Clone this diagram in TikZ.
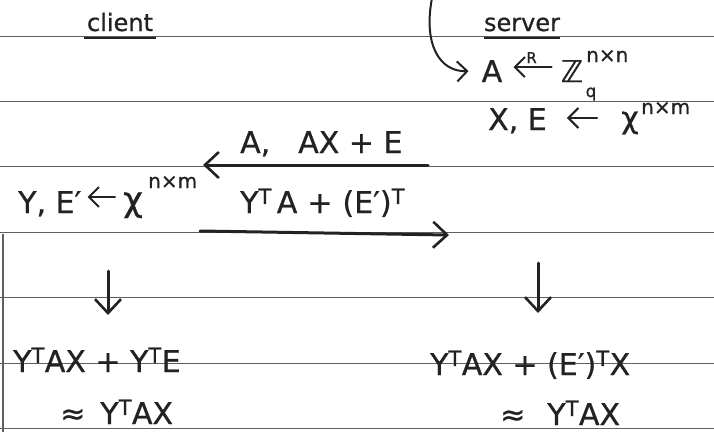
\documentclass[tikz,border=0pt]{standalone}
\usepackage{fontspec}
\setmainfont{DejaVu Sans}[FakeBold=0.8]
\usetikzlibrary{arrows.meta}
\definecolor{inkc}{HTML}{222222}
\definecolor{rulec}{HTML}{606060}
\newcommand{\tp}{\textsuperscript{T}}
\begin{document}
\begin{tikzpicture}[x=1pt,y=-1pt,
  hand/.style={text=inkc, inner sep=0pt, font=\fontsize{30}{30}\selectfont},
  label/.style={text=inkc, inner sep=0pt, font=\fontsize{24}{24}\selectfont},
  expo/.style={text=inkc, inner sep=0pt, font=\fontsize{20}{20}\selectfont},
  tiny/.style={text=inkc, inner sep=0pt, font=\fontsize{15}{15}\selectfont},
  conn/.style={draw=inkc, line width=2pt, line cap=round,
    -{Straight Barb[length=10pt,width=20pt,line width=2pt]}},
  msg/.style={draw=inkc, line width=3pt, line cap=round,
    -{Straight Barb[length=14pt,width=26pt,line width=2.6pt]}},
  uline/.style={draw=inkc, line width=2.6pt},
  ruled/.style={draw=rulec, line width=1pt}]
\useasboundingbox (0,0) rectangle (714,432);
\fill[white] (0,0) rectangle (714,432);

% ruled paper
\foreach \yy in {36,101,166,232,297,363,428}
  \draw[ruled] (0,\yy) -- (714,\yy);
\draw[ruled, line width=1.4pt] (3,234) -- (3,432);

% headings
\node[label, anchor=base] (client) at (120,31) {client};
\draw[uline] (84,38) -- (156,38);
\node[label, anchor=base] (server) at (522,31) {server};
\draw[uline] (484,38) -- (560,38);

% server: sampling
\node[hand, anchor=base] (A) at (492,82) {A};
\node[hand, anchor=base] (Z) at (572,82) {ℤ};
\node[expo, anchor=base west] (Znn) at (586,62) {n×n};
\node[expo, anchor=base, font=\fontsize{17}{17}\selectfont] (Zq) at (591,97) {q};
\draw[conn, shorten <=9pt, shorten >=11pt] ([yshift=4pt]Z.west) -- ([yshift=4pt]A.east)
  node[tiny, midway, above=3pt] {R};
\coordinate (loop) at (432,-2);
\draw[conn] (loop) .. controls (423,45) and (440,72) .. ([xshift=-13pt]A.west);

\node[hand, anchor=base west] (XE) at (488,130) {X, E};
\node[hand, anchor=base] (chi) at (630,128) {χ};
\node[expo, anchor=base west] (chinm) at (641,114) {n×m};
\draw[conn, shorten <=24pt, shorten >=20pt] (chi.west |- 0,118) -- (XE.east |- 0,118);

% first message
\node[hand, anchor=base west] (msg1) at (240,153) {A,\hspace{28pt}AX + E};
\coordinate (m1a) at (428,165);
\coordinate (m1b) at (203,165);
\draw[msg] (m1a) -- (m1b);

% client: sampling
\node[hand, anchor=base west] (YE) at (18,213) {Y, E′};
\node[hand, anchor=base west, font=\fontsize{34}{34}\selectfont] (chiL) at (123,211) {χ};
\node[expo, anchor=base west] (chiLnm) at (148,188) {n×m};
\draw[conn, shorten <=8pt, shorten >=6pt] (chiL.west |- 0,197) -- (YE.east |- 0,197);

% second message
\node[hand, anchor=base west] (msg2) at (240,213) {Y\tp\,A\,\,+\,\,(E′)\tp};
\coordinate (m2a) at (200,231);
\coordinate (m2b) at (449,235);
\draw[msg] (m2a) -- (m2b);

% results
\coordinate (dLa) at (108,271);
\coordinate (dLb) at (108,315);
\draw[msg] (dLa) -- (dLb);
\coordinate (dRa) at (538,263);
\coordinate (dRb) at (538,313);
\draw[msg] (dRa) -- (dRb);

\node[hand, anchor=base west] (resL) at (13,372) {Y\tp AX + Y\tp E};
\node[hand, anchor=base west] (apxL) at (60,424) {≈\hspace{15pt}Y\tp AX};
\node[hand, anchor=base west] (resR) at (430,375) {Y\tp AX + (E′)\tp X};
\node[hand, anchor=base west] (apxR) at (500,425) {≈\hspace{22pt}Y\tp AX};
\end{tikzpicture}
\end{document}
